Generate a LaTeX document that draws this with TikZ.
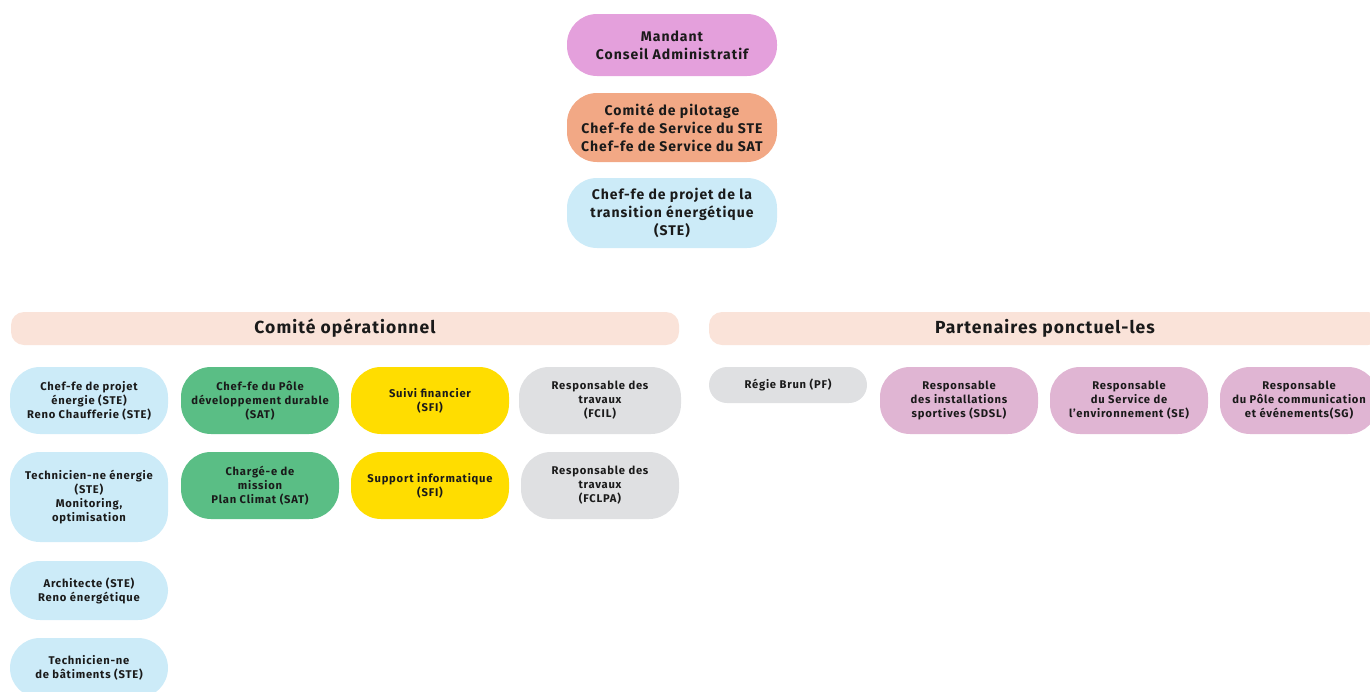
\documentclass[tikz,border=0pt]{standalone}
\usepackage{fontspec}
\setmainfont{Fira Sans}[LetterSpace=7]
\newfontfamily\hfont{Fira Sans}[LetterSpace=6]
\definecolor{cviolet}{HTML}{E4A0DC}
\definecolor{csalmon}{HTML}{F2A885}
\definecolor{cblue}{HTML}{CCEBF8}
\definecolor{cgreen}{HTML}{5ABE85}
\definecolor{cyellow}{HTML}{FFDD00}
\definecolor{cgrey}{HTML}{DFE0E2}
\definecolor{cpink}{HTML}{E0B5D3}
\definecolor{cpeach}{HTML}{FAE3D9}
\definecolor{ctext}{HTML}{1A1A1A}
\tikzset{
  pill/.style={rectangle, rounded corners=30pt, inner sep=0pt, align=center, text=ctext, font=\bfseries\fontsize{11.2}{14}\selectfont},
  topbox/.style={pill, minimum width=210pt, font=\bfseries\fontsize{14}{17.8}\selectfont},
  smallbox/.style={pill, minimum width=158pt, minimum height=67pt},
  header/.style={rectangle, rounded corners=13pt, inner sep=0pt, fill=cpeach, minimum height=33pt, text=ctext, font=\hfont\bfseries\fontsize{17.5}{20}\selectfont}
}
\begin{document}
\begin{tikzpicture}[x=1pt,y=-1pt]
\useasboundingbox (0,0) rectangle (1370,691);
\clip (0,0) rectangle (1370,691);
% top column
\node[topbox, fill=cviolet, minimum height=62pt] (mandant) at (672,45) {Mandant\\Conseil Administratif};
\node[topbox, fill=csalmon, minimum height=69pt] (copil) at (672,127.5) {Comité de pilotage\\Chef-fe de Service du STE\\Chef-fe de Service du SAT};
\node[topbox, fill=cblue, minimum height=70pt] (cdp) at (672,213) {Chef-fe de projet de la\\transition énergétique\\(STE)};
% headers
\node[header, minimum width=668pt] (coop) at (345,328.5) {Comité opérationnel};
\node[header, minimum width=672pt] (part) at (1045,328.5) {Partenaires ponctuel-les};
% blue column
\node[smallbox, fill=cblue] (b1) at (89,400.5) {Chef-fe de projet\\énergie (STE)\\Reno Chaufferie (STE)};
\node[smallbox, fill=cblue, minimum height=90pt] (b2) at (89,497) {Technicien-ne énergie\\(STE)\\Monitoring,\\optimisation};
\node[smallbox, fill=cblue, minimum height=59pt] (b3) at (89,590.5) {Architecte (STE)\\Reno énergétique};
\node[smallbox, fill=cblue, minimum height=60pt] (b4) at (89,668) {Technicien-ne\\de bâtiments (STE)};
% green column
\node[smallbox, fill=cgreen] (g1) at (260,400.5) {Chef-fe du Pôle\\développement durable\\(SAT)};
\node[smallbox, fill=cgreen] (g2) at (260,485.5) {Chargé-e de\\mission\\Plan Climat (SAT)};
% yellow column
\node[smallbox, fill=cyellow] (y1) at (430,400.5) {Suivi financier\\(SFI)};
\node[smallbox, fill=cyellow] (y2) at (430,485.5) {Support informatique\\(SFI)};
% grey column
\node[smallbox, fill=cgrey, minimum width=162pt] (r1) at (600,400.5) {Responsable des\\travaux\\(FCIL)};
\node[smallbox, fill=cgrey] (r2) at (600,485.5) {Responsable des\\travaux\\(FCLPA)};
% partners
\node[pill, fill=cgrey, minimum width=158pt, minimum height=36pt, rounded corners=18pt] (regie) at (788,385) {Régie Brun (PF)};
\node[smallbox, fill=cpink] (p1) at (959,400.5) {Responsable\\des installations\\sportives (SDSL)};
\node[smallbox, fill=cpink] (p2) at (1129,400.5) {Responsable\\du Service de\\l’environnement (SE)};
\node[smallbox, fill=cpink] (p3) at (1299,400.5) {Responsable\\du Pôle communication\\et événements(SG)};
\end{tikzpicture}
\end{document}
